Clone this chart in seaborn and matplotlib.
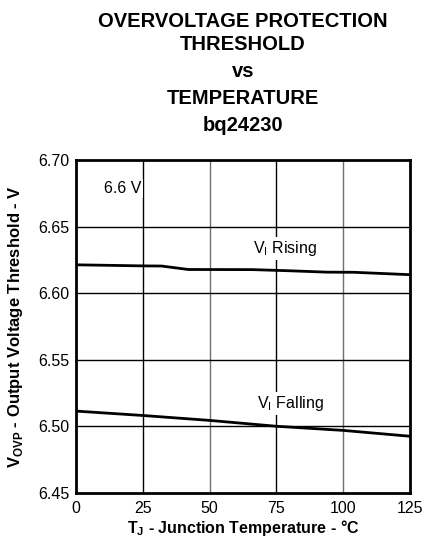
import matplotlib
matplotlib.use('Agg')
import matplotlib.pyplot as plt
import pandas as pd
import seaborn as sns

temp_rising = [0, 10, 25, 32, 42, 66, 79, 94, 104, 125]
v_rising = [6.6213, 6.6210, 6.6205, 6.6204, 6.6178, 6.6177, 6.6169, 6.6158, 6.6157, 6.6139]
temp_falling = [0, 25, 50, 75, 100, 125]
v_falling = [6.5115, 6.5082, 6.5045, 6.5001, 6.4970, 6.4926]
x_ticks = [0, 25, 50, 75, 100, 125]
y_ticks = [6.45, 6.50, 6.55, 6.60, 6.65, 6.70]
title_lines = ['OVERVOLTAGE PROTECTION', 'THRESHOLD', 'vs', 'TEMPERATURE', 'bq24230']

rising = pd.DataFrame({'T': temp_rising, 'V': v_rising})
falling = pd.DataFrame({'T': temp_falling, 'V': v_falling})

sns.set_style('white', {'text.color': 'black', 'axes.labelcolor': 'black',
                        'xtick.color': 'black', 'ytick.color': 'black'})
plt.rcParams['font.family'] = ['Liberation Sans', 'DejaVu Sans']

W, H = 425, 539
fig = plt.figure(figsize=(W / 100, H / 100), dpi=100)
ax = fig.add_axes([76 / W, 1 - 493 / H, 334 / W, 333 / H])

sns.lineplot(data=rising, x='T', y='V', color='black', lw=2, ax=ax, zorder=4)
sns.lineplot(data=falling, x='T', y='V', color='black', lw=2, ax=ax, zorder=4)

ax.set_xlim(0, 125)
ax.set_ylim(6.45, 6.70)
ax.set_xticks(x_ticks)
ax.set_yticks(y_ticks)
ax.set_yticklabels(['%.2f' % v for v in y_ticks])
ax.tick_params(labelsize=11.5, length=0, labelcolor='black')
ax.tick_params(axis='x', pad=6)
ax.tick_params(axis='y', pad=5)

for t in x_ticks[1:-1]:
    c = 'black' if t in (25, 75) else '#707070'
    ax.axvline(t, color=c, lw=1.0, zorder=1)
for v in y_ticks[1:-1]:
    ax.axhline(v, color='black', lw=1.0, zorder=1)

for s in ax.spines.values():
    s.set_color('black')
    s.set_linewidth(2)

box = dict(facecolor='white', edgecolor='none', pad=1.5)
ax.text(24.4, 6.6787, '6.6 V', fontsize=11.5, color='black', va='center', ha='right', bbox=box, zorder=3)
ax.text(66.4, 6.6336, r'V$_\mathregular{I}$ Rising', fontsize=11.5, color='black', va='center', ha='left', bbox=box, zorder=3)
ax.text(67.6, 6.5173, r'V$_\mathregular{I}$ Falling', fontsize=11.5, color='black', va='center', ha='left', bbox=box, zorder=3)

ax.set_xlabel(r'T$_\mathregular{J}$ - Junction Temperature - °C', fontsize=11.5, fontweight='bold', color='black', labelpad=1)
ax.set_ylabel(r'V$_\mathregular{OVP}$ - Output Voltage Threshold - V', fontsize=12, fontweight='bold', color='black', labelpad=9)

baselines = [27, 50, 77, 104, 131]
for line, b in zip(title_lines, baselines):
    fig.text(243 / W, 1 - b / H, line, ha='center', va='baseline', fontsize=14.5, fontweight='bold', color='black')

fig.savefig('out.png', dpi=100)
